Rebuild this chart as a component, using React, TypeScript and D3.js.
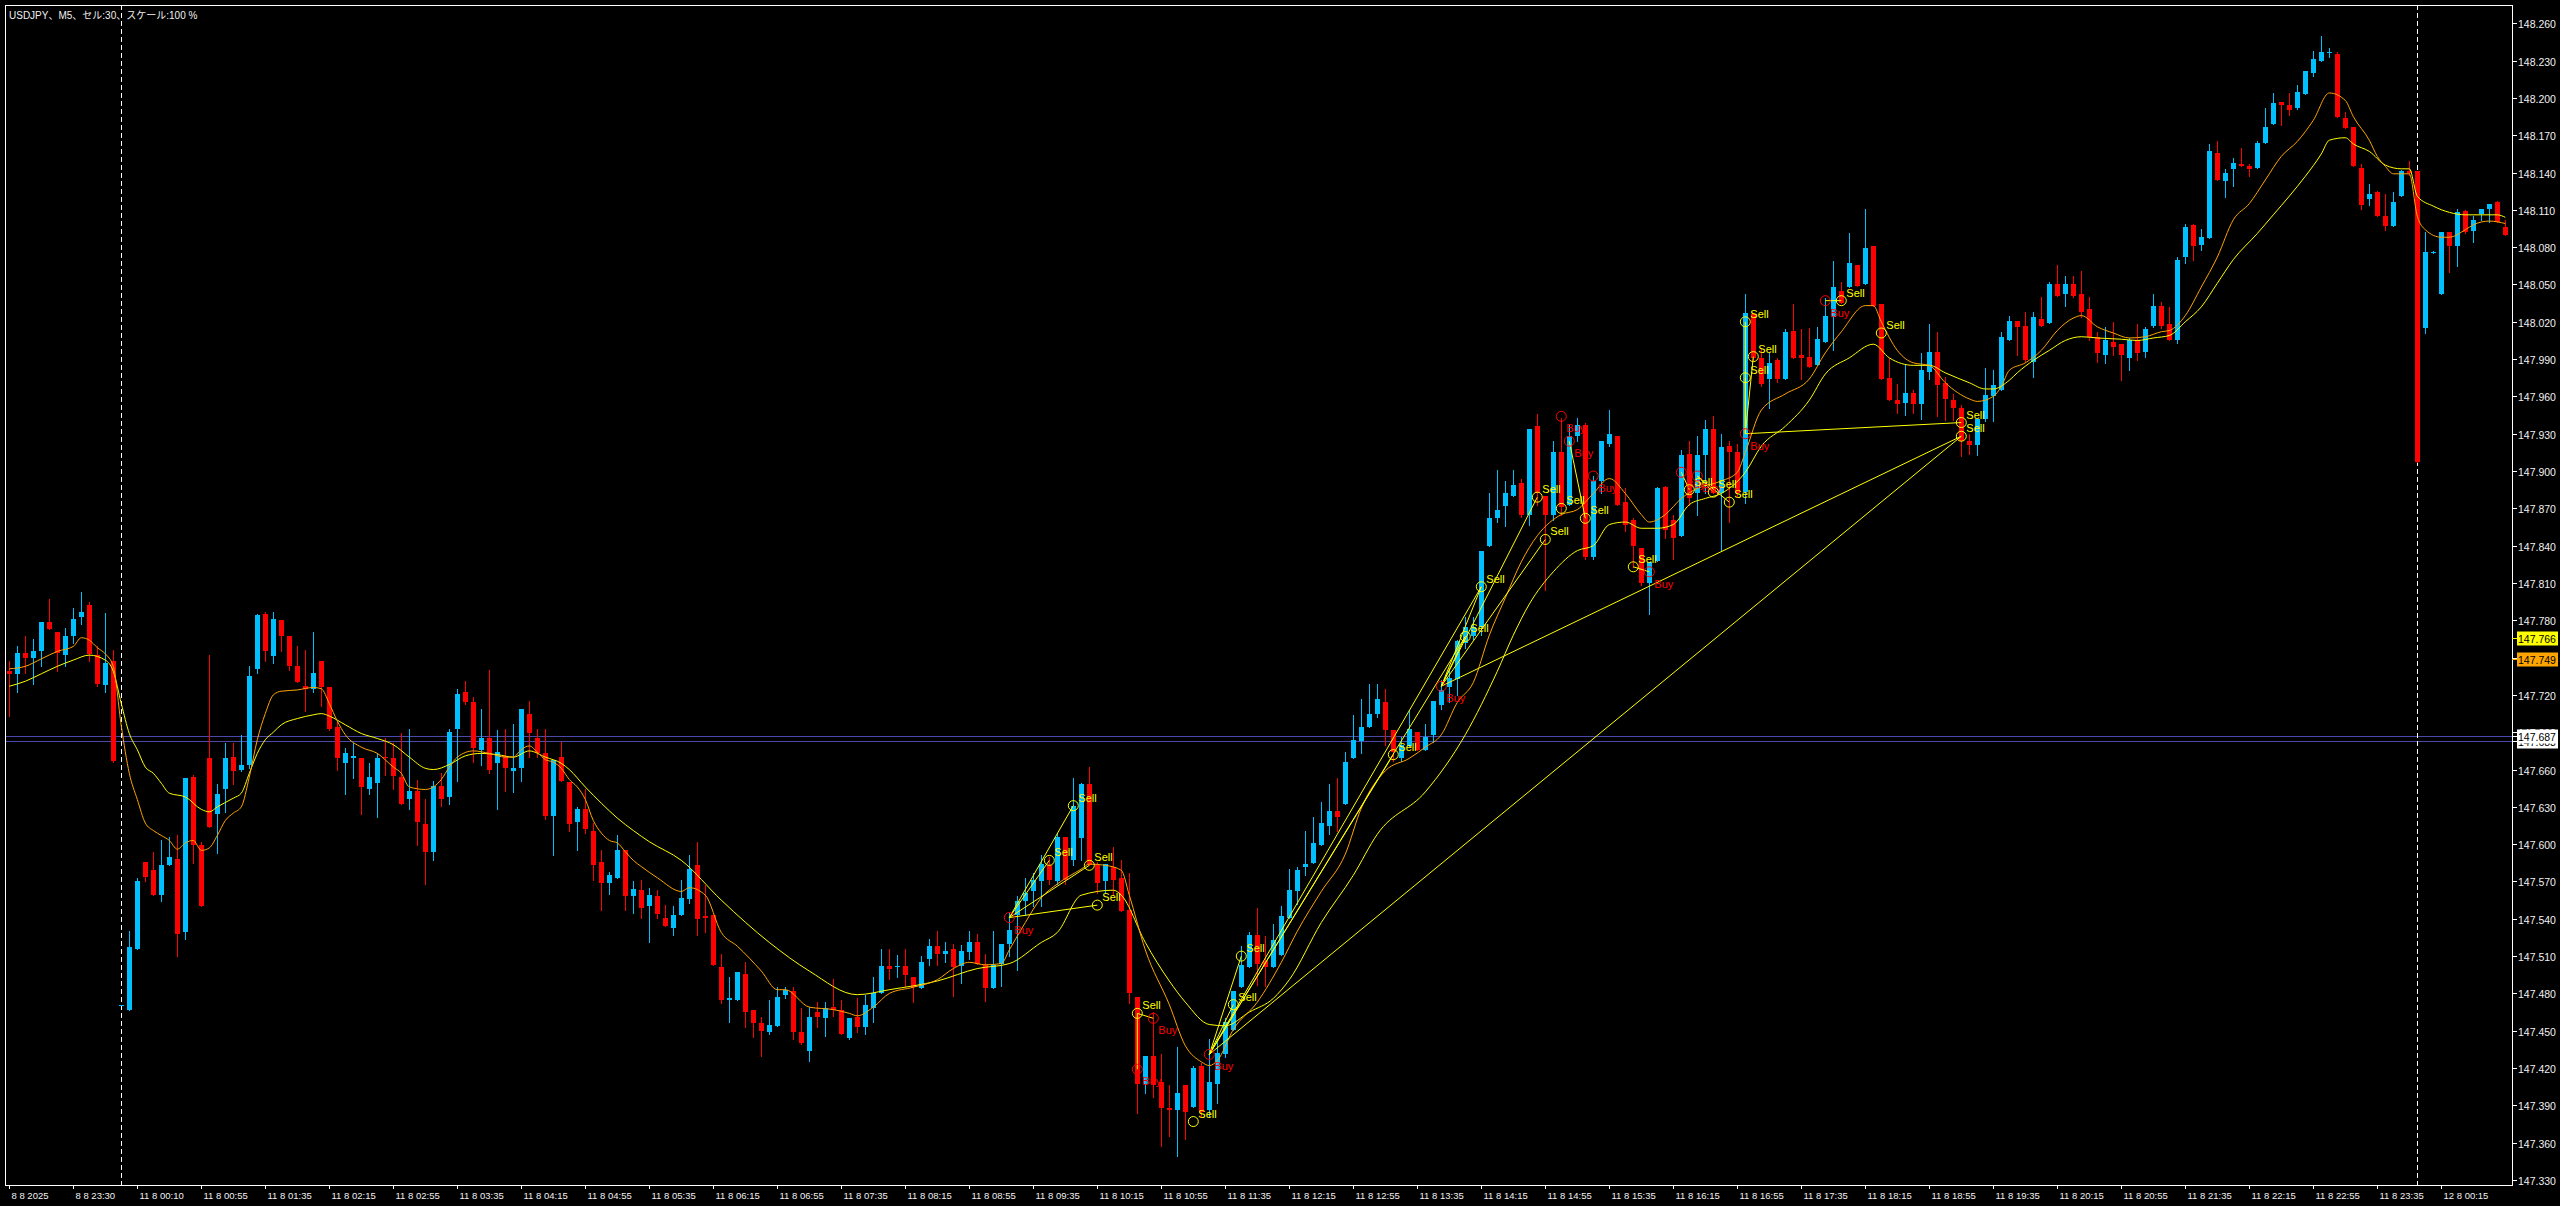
import React from "react";
import * as d3 from "d3";

const W = 2560;
const H = 1206;

const titleText = "USDJPY、M5、セル:30、スケール:100 %";

const open = [
147.739,147.737,147.754,147.750,147.755,147.779,147.771,147.752,147.767,147.783,
147.792,147.752,147.728,147.747,147.471,147.467,147.516,147.586,147.579,147.559,
147.583,147.588,147.529,147.654,147.599,147.669,147.624,147.644,147.670,147.660,
147.664,147.741,147.785,147.751,147.780,147.767,147.743,147.727,147.725,147.747,
147.726,147.694,147.665,147.669,147.669,147.644,147.649,147.670,147.669,147.654,
147.636,147.643,147.616,147.594,147.647,147.638,147.693,147.722,147.714,147.676,
147.685,147.665,147.671,147.659,147.661,147.705,147.685,147.673,147.623,147.670,
147.650,147.618,147.628,147.611,147.586,147.569,147.573,147.595,147.558,147.563,
147.550,147.558,147.541,147.533,147.543,147.556,147.583,147.542,147.543,147.501,
147.475,147.475,147.496,147.467,147.456,147.449,147.454,147.479,147.482,147.449,
147.434,147.465,147.460,147.469,147.467,147.444,147.461,147.453,147.468,147.480,
147.502,147.501,147.502,147.493,147.484,147.508,147.518,147.512,147.516,147.502,
147.513,147.521,147.503,147.484,147.504,147.520,147.543,147.554,147.562,147.570,
147.583,147.570,147.606,147.587,147.605,147.648,147.583,147.570,147.582,147.573,
147.547,147.477,147.407,147.430,147.409,147.388,147.386,147.406,147.389,147.422,
147.386,147.407,147.431,147.451,147.485,147.501,147.527,147.506,147.501,147.511,
147.541,147.562,147.582,147.585,147.599,147.615,147.627,147.632,147.669,147.683,
147.694,147.705,147.714,147.692,147.669,147.679,147.690,147.676,147.688,147.712,
147.726,147.733,147.762,147.767,147.775,147.840,147.862,147.872,147.880,147.890,
147.865,147.936,147.880,147.865,147.915,147.873,147.928,147.937,147.831,147.892,
147.922,147.928,147.875,147.861,147.838,147.810,147.828,147.887,147.861,147.848,
147.914,147.882,147.913,147.934,147.882,147.920,147.915,147.883,148.026,147.991,
147.974,147.989,147.974,148.013,147.993,147.992,147.985,148.004,148.024,148.045,
148.048,148.066,148.050,148.081,148.034,147.975,147.957,147.955,147.963,147.954,
147.980,147.996,147.971,147.957,147.951,147.924,147.921,147.942,147.960,147.965,
148.005,148.021,148.017,147.988,148.022,148.019,148.050,148.042,148.050,148.042,
148.030,148.008,147.993,148.004,148.002,147.991,148.005,147.996,148.017,148.033,
148.018,148.005,148.072,148.098,148.082,148.087,148.156,148.133,148.143,148.147,
148.145,148.144,148.164,148.179,148.197,148.194,148.192,148.203,148.220,148.230,
148.236,148.235,148.184,148.177,148.144,148.119,148.124,148.105,148.097,148.121,
148.141,148.141,148.015,148.076,148.042,148.092,148.081,148.109,148.093,148.107,
148.111,148.116,148.096];

const high = [
147.747,147.759,147.767,147.765,147.779,147.797,147.771,147.774,147.790,147.803,
147.795,147.759,147.786,147.756,147.471,147.530,147.573,147.586,147.594,147.603,
147.606,147.607,147.653,147.656,147.602,147.752,147.648,147.681,147.681,147.688,
147.743,147.785,147.787,147.787,147.780,147.767,147.759,147.756,147.771,147.747,
147.726,147.698,147.677,147.681,147.669,147.665,147.673,147.685,147.681,147.689,
147.693,147.652,147.636,147.651,147.657,147.693,147.725,147.731,147.718,147.709,
147.740,147.692,147.693,147.697,147.709,147.715,147.693,147.693,147.668,147.682,
147.650,147.630,147.644,147.617,147.595,147.578,147.607,147.595,147.570,147.571,
147.565,147.563,147.551,147.550,147.571,147.591,147.602,147.567,147.543,147.512,
147.493,147.497,147.505,147.467,147.461,147.475,147.485,147.485,147.485,147.468,
147.469,147.473,147.473,147.492,147.475,147.460,147.476,147.479,147.493,147.516,
147.516,147.511,147.516,147.493,147.510,147.524,147.530,147.521,147.520,147.519,
147.530,147.528,147.512,147.530,147.520,147.545,147.558,147.573,147.577,147.591,
147.590,147.609,147.606,147.653,147.649,147.662,147.586,147.584,147.598,147.587,
147.577,147.477,147.430,147.465,147.431,147.406,147.437,147.406,147.422,147.424,
147.443,147.443,147.460,147.482,147.518,147.529,147.549,147.526,147.536,147.550,
147.580,147.582,147.611,147.622,147.634,147.648,147.653,147.674,147.704,147.717,
147.729,147.729,147.725,147.692,147.686,147.708,147.690,147.697,147.715,147.732,
147.739,147.764,147.783,147.783,147.836,147.882,147.901,147.892,147.901,147.894,
147.934,147.946,147.880,147.924,147.943,147.937,147.943,147.939,147.896,147.924,
147.949,147.928,147.886,147.862,147.838,147.827,147.887,147.888,147.865,147.917,
147.924,147.928,147.941,147.944,147.930,147.924,147.922,148.042,148.027,147.999,
147.995,147.991,148.014,148.034,148.014,148.015,148.016,148.039,148.069,148.052,
148.091,148.066,148.111,148.081,148.034,147.991,147.970,147.985,147.965,147.995,
148.018,148.012,147.976,147.962,147.953,147.930,147.942,147.983,147.981,148.012,
148.025,148.021,148.028,148.028,148.040,148.052,148.066,148.057,148.057,148.061,
148.040,148.012,148.016,148.020,148.002,148.007,148.018,148.016,148.042,148.036,
148.032,148.072,148.099,148.099,148.095,148.163,148.165,148.143,148.152,148.160,
148.147,148.165,148.192,148.204,148.197,148.204,148.210,148.222,148.238,148.250,
148.240,148.237,148.189,148.177,148.147,148.131,148.125,148.123,148.124,148.142,
148.149,148.141,148.092,148.077,148.092,148.092,148.111,148.110,148.105,148.111,
148.115,148.117,148.102];

const low = [
147.703,147.722,147.738,147.729,147.743,147.773,147.739,147.743,147.762,147.777,
147.747,147.727,147.722,147.666,147.471,147.467,147.516,147.570,147.559,147.554,
147.583,147.510,147.524,147.585,147.550,147.614,147.593,147.626,147.648,147.659,
147.661,147.738,147.747,147.746,147.755,147.740,147.730,147.707,147.722,147.711,
147.692,147.660,147.640,147.653,147.624,147.640,147.622,147.656,147.644,147.632,
147.628,147.599,147.568,147.587,147.631,147.632,147.651,147.713,147.666,147.664,
147.657,147.628,147.643,147.642,147.651,147.670,147.670,147.620,147.591,147.651,
147.611,147.595,147.609,147.571,147.547,147.560,147.573,147.547,147.545,147.541,
147.521,147.541,147.534,147.527,147.543,147.553,147.527,147.529,147.503,147.472,
147.457,147.475,147.453,147.445,147.430,147.447,147.454,147.476,147.443,147.439,
147.426,147.453,147.446,147.462,147.447,147.443,147.449,147.447,147.457,147.480,
147.492,147.493,147.486,147.473,147.484,147.503,147.503,147.505,147.478,147.488,
147.508,147.504,147.474,147.484,147.486,147.510,147.499,147.543,147.550,147.550,
147.568,147.568,147.568,147.583,147.587,147.583,147.561,147.561,147.559,147.546,
147.472,147.384,147.400,147.397,147.357,147.365,147.349,147.363,147.389,147.381,
147.381,147.392,147.429,147.451,147.485,147.501,147.487,147.486,147.501,147.511,
147.541,147.552,147.575,147.585,147.599,147.608,147.611,147.632,147.669,147.673,
147.694,147.702,147.680,147.667,147.667,147.679,147.676,147.676,147.682,147.709,
147.714,147.720,147.758,147.765,147.768,147.840,147.859,147.856,147.880,147.863,
147.857,147.873,147.804,147.861,147.865,147.873,147.924,147.829,147.829,147.882,
147.920,147.873,147.852,147.823,147.808,147.785,147.828,147.846,147.829,147.848,
147.873,147.865,147.882,147.882,147.836,147.859,147.880,147.874,147.989,147.968,
147.951,147.972,147.974,147.991,147.974,147.984,147.985,148.004,147.997,148.035,
148.048,148.049,148.050,148.033,147.974,147.957,147.947,147.945,147.947,147.942,
147.974,147.944,147.941,147.941,147.912,147.914,147.913,147.940,147.940,147.965,
148.005,147.993,147.988,147.976,148.017,148.019,148.041,148.033,148.040,148.024,
148.005,147.988,147.987,147.993,147.973,147.981,147.989,147.992,148.016,148.015,
148.005,148.003,148.067,148.070,148.078,148.087,148.134,148.120,148.129,148.145,
148.137,148.144,148.164,148.179,148.178,148.186,148.191,148.203,148.218,148.230,
148.233,148.185,148.176,148.145,148.111,148.114,148.105,148.094,148.097,148.121,
148.138,147.907,148.011,148.075,148.042,148.060,148.065,148.091,148.084,148.102,
148.100,148.100,148.090];

const close = [
147.737,147.754,147.750,147.755,147.779,147.773,147.754,147.767,147.781,147.787,
147.753,147.729,147.746,147.667,147.471,147.517,147.570,147.574,147.559,147.583,
147.590,147.528,147.653,147.599,147.550,147.614,147.640,147.669,147.659,147.664,
147.735,147.784,147.755,147.781,147.767,147.743,147.730,147.725,147.738,147.726,
147.693,147.669,147.673,147.671,147.646,147.654,147.669,147.669,147.655,147.632,
147.643,147.618,147.594,147.647,147.636,147.690,147.721,147.714,147.677,147.685,
147.660,147.674,147.661,147.661,147.709,147.689,147.673,147.623,147.668,147.651,
147.616,147.628,147.612,147.583,147.569,147.575,147.595,147.558,147.564,147.549,
147.559,147.544,147.534,147.543,147.557,147.580,147.540,147.541,147.503,147.475,
147.476,147.497,147.465,147.456,147.450,147.455,147.477,147.483,147.449,147.440,
147.461,147.461,147.468,147.467,147.447,147.460,147.453,147.471,147.480,147.502,
147.500,147.502,147.495,147.485,147.505,147.518,147.512,147.514,147.501,147.514,
147.521,147.504,147.484,147.503,147.520,147.531,147.554,147.561,147.571,147.584,
147.571,147.606,147.571,147.631,147.648,147.583,147.569,147.584,147.571,147.546,
147.480,147.407,147.430,147.406,147.388,147.386,147.400,147.385,147.420,147.385,
147.409,147.432,147.457,147.482,147.503,147.527,147.504,147.501,147.523,147.542,
147.563,147.579,147.584,147.601,147.617,147.627,147.622,147.666,147.684,147.694,
147.705,147.717,147.692,147.674,147.680,147.693,147.676,147.686,147.715,147.724,
147.734,147.763,147.775,147.775,147.836,147.862,147.869,147.882,147.889,147.865,
147.934,147.882,147.865,147.915,147.871,147.928,147.937,147.831,147.892,147.924,
147.930,147.873,147.857,147.840,147.810,147.827,147.886,147.853,147.846,147.913,
147.878,147.913,147.934,147.882,147.919,147.915,147.882,148.027,147.991,147.970,
147.987,147.974,148.012,147.991,147.991,147.984,148.006,148.025,148.048,148.035,
148.067,148.049,148.079,148.033,147.974,147.957,147.954,147.963,147.954,147.981,
147.996,147.969,147.958,147.951,147.924,147.921,147.942,147.961,147.969,148.008,
148.021,148.016,147.989,148.024,148.017,148.050,148.041,148.050,148.041,148.028,
148.008,147.995,148.005,148.000,147.993,148.005,147.995,148.014,148.033,148.017,
148.005,148.070,148.096,148.081,148.088,148.157,148.134,148.140,148.148,148.145,
148.143,148.164,148.177,148.196,148.194,148.190,148.205,148.222,148.231,148.237,
148.237,148.185,148.176,148.145,148.114,148.123,148.105,148.097,148.116,148.141,
148.140,147.907,148.076,148.076,148.092,148.081,148.108,148.092,148.102,148.111,
148.115,148.100,148.090];

// fast moving average (orange): [bar, price]
const fastMA: [number, number][] = [
[0,147.741],[2,147.743],[4,147.749],[6,147.755],[8,147.759],[9,147.766],[10,147.764],[11,147.758],[12,147.753],[13,147.743],
[14,147.695],[15,147.657],[16,147.636],[17,147.617],[18,147.611],[19,147.607],[20,147.603],[21,147.596],[22,147.601],[23,147.603],
[24,147.595],[25,147.597],[26,147.607],[27,147.619],[28,147.625],[29,147.630],[30,147.654],[31,147.684],[32,147.705],[33,147.720],
[34,147.723],[36,147.724],[38,147.726],[39,147.725],[40,147.713],[41,147.699],[42,147.688],[44,147.678],[46,147.673],[48,147.662],
[49,147.657],[50,147.646],[52,147.644],[53,147.646],[54,147.652],[55,147.662],[56,147.670],[58,147.675],[60,147.673],[62,147.670],
[63,147.670],[64,147.676],[65,147.679],[66,147.674],[67,147.668],[68,147.666],[69,147.661],[70,147.652],[71,147.646],[72,147.636],
[73,147.619],[74,147.609],[75,147.603],[76,147.601],[77,147.594],[78,147.587],[79,147.582],[81,147.573],[84,147.562],[85,147.565],
[87,147.559],[89,147.529],[91,147.518],[94,147.498],[96,147.483],[97,147.483],[100,147.469],[103,147.467],[105,147.464],[106,147.462],
[108,147.469],[110,147.480],[113,147.485],[116,147.491],[118,147.500],[120,147.505],[122,147.503],[124,147.504],[125,147.515],[127,147.537],
[129,147.557],[131,147.568],[134,147.580],[135,147.584],[137,147.583],[139,147.579],[140,147.559],[142,147.515],[145,147.471],[147,147.438],
[149,147.425],[150,147.422],[151,147.426],[153,147.451],[156,147.473],[159,147.505],[161,147.530],[164,147.562],[167,147.592],[169,147.629],
[172,147.659],[175,147.669],[177,147.678],[179,147.688],[181,147.714],[183,147.730],[185,147.768],[187,147.798],[189,147.827],[191,147.848],
[194,147.865],[196,147.869],[198,147.882],[200,147.894],[202,147.882],[204,147.865],[205,147.859],[207,147.865],[209,147.878],[211,147.886],
[214,147.892],[216,147.899],[217,147.915],[219,147.949],[222,147.962],[225,147.974],[227,147.995],[229,148.012],[232,148.033],[233,148.033],
[234,148.020],[236,147.997],[238,147.987],[240,147.985],[242,147.971],[245,147.958],[246,147.956],[248,147.960],[249,147.968],[250,147.981],
[252,147.987],[254,147.997],[256,148.013],[258,148.023],[259,148.025],[261,148.016],[263,148.011],[265,148.007],[267,148.008],[269,148.012],
[270,148.013],[272,148.025],[274,148.048],[276,148.072],[278,148.102],[280,148.115],[282,148.134],[284,148.153],[286,148.165],[288,148.182],
[290,148.204],[292,148.198],[293,148.185],[295,148.166],[296,148.153],[297,148.145],[298,148.139],[300,148.139],[301,148.105],[302,148.094],
[304,148.088],[305,148.088],[307,148.094],[308,148.098],[310,148.101],[312,148.099]];

// slow moving average (yellow): [bar, price]
const slowMA: [number, number][] = [
[0,147.727],[2,147.731],[4,147.737],[6,147.743],[8,147.748],[10,147.752],[12,147.748],[13,147.739],[14,147.713],[15,147.689],
[16,147.676],[17,147.662],[18,147.657],[19,147.649],[20,147.641],[22,147.638],[24,147.628],[25,147.626],[26,147.630],[28,147.637],
[29,147.641],[30,147.657],[31,147.673],[32,147.684],[33,147.690],[34,147.696],[36,147.701],[38,147.704],[39,147.705],[40,147.703],
[42,147.696],[44,147.689],[46,147.685],[48,147.680],[50,147.670],[52,147.661],[53,147.660],[55,147.664],[57,147.671],[59,147.673],
[61,147.672],[63,147.670],[65,147.675],[67,147.670],[69,147.665],[70,147.660],[72,147.646],[74,147.633],[76,147.621],[78,147.611],
[80,147.602],[84,147.587],[89,147.555],[95,147.521],[100,147.498],[106,147.479],[110,147.483],[116,147.490],[121,147.500],[125,147.504],
[129,147.521],[131,147.529],[134,147.559],[138,147.563],[139,147.559],[142,147.521],[145,147.490],[147,147.473],[150,147.455],[152,147.454],
[155,147.465],[158,147.476],[160,147.491],[164,147.537],[168,147.575],[171,147.608],[177,147.642],[182,147.688],[186,147.739],[188,147.768],
[190,147.793],[193,147.819],[196,147.836],[198,147.840],[200,147.857],[202,147.859],[204,147.854],[206,147.854],[208,147.857],[210,147.873],
[212,147.878],[214,147.882],[217,147.899],[219,147.920],[222,147.936],[225,147.957],[227,147.978],[230,147.991],[233,148.002],[235,147.991],
[238,147.985],[240,147.985],[242,147.979],[245,147.971],[247,147.966],[248,147.966],[250,147.973],[251,147.979],[253,147.989],[255,147.997],
[257,148.005],[259,148.008],[261,148.007],[264,148.006],[266,148.005],[268,148.007],[270,148.009],[272,148.020],[274,148.032],[276,148.051],
[278,148.070],[281,148.091],[283,148.106],[285,148.121],[287,148.137],[289,148.155],[290,148.166],[292,148.168],[293,148.163],[295,148.157],
[297,148.146],[299,148.143],[300,148.143],[301,148.121],[303,148.113],[305,148.108],[307,148.106],[309,148.106],[311,148.106],[312,148.104]];

// trade signals
const signalBar = [125,130,133,135,136,141,143,141,148,150,153,154,173,179,182,184,191,192,194,197,194,195,198,203,205,209,210,211,213,215,217,217,218,217,227,229,234,244,244];
const signalPrice = [147.541,147.587,147.631,147.583,147.551,147.464,147.460,147.419,147.377,147.431,147.471,147.510,147.672,147.727,147.767,147.807,147.879,147.845,147.870,147.862,147.944,147.924,147.896,147.823,147.819,147.899,147.885,147.896,147.883,147.875,147.930,148.020,147.992,147.975,148.037,148.037,148.011,147.939,147.928];
const signalType = ["Buy","Sell","Sell","Sell","Sell","Sell","Buy","Buy","Sell","Buy","Sell","Sell","Sell","Buy","Sell","Sell","Sell","Sell","Sell","Sell","Buy","Buy","Buy","Sell","Buy","Buy","Sell","Buy","Sell","Sell","Buy","Sell","Sell","Sell","Buy","Sell","Sell","Sell","Sell"];
const signalLinks: [number, number][] = [
[0,1],[0,2],[0,3],[0,4],[5,7],[5,6],[9,10],[9,11],[9,12],[9,14],[9,15],[9,38],
[13,14],[13,15],[13,16],[13,17],[13,38],[21,19],[23,24],[25,26],[27,28],[27,29],
[30,31],[30,32],[30,33],[30,37],[34,35]];

const priceTicks = ["148.260","148.230","148.200","148.170","148.140","148.110","148.080","148.050","148.020","147.990","147.960","147.930","147.900","147.870","147.840","147.810","147.780","147.750","147.720","147.690","147.660","147.630","147.600","147.570","147.540","147.510","147.480","147.450","147.420","147.390","147.360","147.330"];

const timeLabels = ["8 8 2025","8 8 23:30","11 8 00:10","11 8 00:55","11 8 01:35","11 8 02:15","11 8 02:55","11 8 03:35","11 8 04:15","11 8 04:55","11 8 05:35","11 8 06:15","11 8 06:55","11 8 07:35","11 8 08:15","11 8 08:55","11 8 09:35","11 8 10:15","11 8 10:55","11 8 11:35","11 8 12:15","11 8 12:55","11 8 13:35","11 8 14:15","11 8 14:55","11 8 15:35","11 8 16:15","11 8 16:55","11 8 17:35","11 8 18:15","11 8 18:55","11 8 19:35","11 8 20:15","11 8 20:55","11 8 21:35","11 8 22:15","11 8 22:55","11 8 23:35","12 8 00:15"];
const timeLabelStep = 8;

const daySeparatorBars = [14, 301];
const hLinePrices = [147.687, 147.683];
const markerPrices = [147.683, 147.687, 147.749, 147.766];
const markerKinds = ["line", "line", "fast", "slow"];

const COLORS = {
  bg: "#000000",
  frame: "#ffffff",
  text: "#f0f0f0",
  bull: "#00bfff",
  bear: "#ff0000",
  fast: "#ffa500",
  slow: "#ffff00",
  hline: "#4b48aa",
  sell: "#ffff00",
  buy: "#ff0000",
};
const markerFill: Record<string, string> = { line: "#ffffff", fast: "#ffa500", slow: "#ffff00" };

const FONT = "'Liberation Sans', Arial, 'Noto Sans CJK JP', sans-serif";

export default function App() {
  const left = 5, right = 2512, top = 5, bottom = 1185;
  const x = d3.scaleLinear().domain([0, 312]).range([9.3, 9.3 + 8 * 312]);
  const y = d3.scaleLinear().domain([147.33, 148.26]).range([1180, 23.3]);
  const cx = (i: number) => Math.round(x(i));

  const lineGen = d3
    .line<[number, number]>()
    .x((d) => x(d[0]))
    .y((d) => y(d[1]))
    .curve(d3.curveMonotoneX);

  return (
    <svg
      width={W}
      height={H}
      style={{ position: "absolute", left: 0, top: 0, display: "block", background: COLORS.bg }}
      fontFamily={FONT}
    >
      <rect x={0} y={0} width={W} height={H} fill={COLORS.bg} />
      <clipPath id="plot">
        <rect x={left} y={top} width={right - left} height={bottom - top} />
      </clipPath>

      {/* horizontal lines */}
      {hLinePrices.map((p, k) => (
        <line key={"h" + k} x1={left} x2={right} y1={Math.round(y(p)) + 0.5} y2={Math.round(y(p)) + 0.5} stroke={COLORS.hline} strokeWidth={1} />
      ))}

      {/* day separators */}
      {daySeparatorBars.map((b, k) => (
        <line key={"d" + k} x1={cx(b) + 0.5} x2={cx(b) + 0.5} y1={top} y2={bottom} stroke="#ffffff" strokeWidth={1} strokeDasharray="5,3" />
      ))}

      <g clipPath="url(#plot)">
        {/* candles */}
        {open.map((o, i) => {
          const c = close[i];
          const bull = c >= o;
          const col = bull ? COLORS.bull : COLORS.bear;
          const yTop = Math.round(y(Math.max(o, c)));
          const yBot = Math.round(y(Math.min(o, c)));
          const xc = cx(i);
          return (
            <g key={"c" + i}>
              <line x1={xc + 0.5} x2={xc + 0.5} y1={Math.round(y(high[i]))} y2={Math.round(y(low[i])) + 1} stroke={col} strokeWidth={1} />
              <rect x={xc - 2} y={yTop} width={5} height={Math.max(1, yBot - yTop)} fill={col} />
            </g>
          );
        })}

        {/* moving averages */}
        <path d={lineGen(slowMA) || ""} fill="none" stroke={COLORS.slow} strokeWidth={1} />
        <path d={lineGen(fastMA) || ""} fill="none" stroke={COLORS.fast} strokeWidth={1} />

        {/* signal links */}
        {signalLinks.map(([a, b], k) => (
          <line
            key={"l" + k}
            x1={x(signalBar[a])}
            y1={y(signalPrice[a])}
            x2={x(signalBar[b])}
            y2={y(signalPrice[b])}
            stroke={COLORS.sell}
            strokeWidth={1}
          />
        ))}

        {/* signals */}
        {signalBar.map((b, k) => {
          const sx = x(b);
          const sy = y(signalPrice[k]);
          const isSell = signalType[k] === "Sell";
          const col = isSell ? COLORS.sell : COLORS.buy;
          return (
            <g key={"s" + k}>
              <circle cx={sx} cy={sy} r={5} fill="none" stroke={col} strokeWidth={1} />
              <text x={sx + 5} y={isSell ? sy - 4 : sy + 16} fill={col} fontSize={11}>
                {signalType[k]}
              </text>
            </g>
          );
        })}
      </g>

      {/* frame */}
      <rect x={left + 0.5} y={top + 0.5} width={right - left} height={bottom - top} fill="none" stroke={COLORS.frame} strokeWidth={1} />

      {/* title */}
      <text x={9} y={19} fill={COLORS.text} fontSize={10}>
        {titleText}
      </text>

      {/* price axis */}
      {priceTicks.map((t, k) => {
        const yy = Math.round(y(+t)) + 0.5;
        return (
          <g key={"p" + k}>
            <line x1={right} x2={right + 5} y1={yy} y2={yy} stroke={COLORS.frame} strokeWidth={1} />
            <text x={right + 6} y={yy + 4} fill={COLORS.text} fontSize={10.5}>
              {t}
            </text>
          </g>
        );
      })}

      {/* price markers */}
      {markerPrices.map((p, k) => {
        const yy = Math.round(y(p)) + 0.5;
        const fill = markerFill[markerKinds[k]];
        return (
          <g key={"m" + k}>
            <line x1={right} x2={right + 5} y1={yy} y2={yy} stroke={fill} strokeWidth={1} />
            <rect x={right + 5} y={yy - 7} width={41} height={14} fill={fill} />
            <text x={right + 6} y={yy + 4} fill="#000000" fontSize={10.5}>
              {p.toFixed(3)}
            </text>
          </g>
        );
      })}

      {/* time axis */}
      {timeLabels.map((t, k) => {
        const xx = cx(k * timeLabelStep) + 0.5;
        return (
          <g key={"t" + k}>
            <line x1={xx} x2={xx} y1={bottom} y2={bottom + 4} stroke={COLORS.frame} strokeWidth={1} />
            <text x={xx + 2} y={1199} fill={COLORS.text} fontSize={9.5}>
              {t}
            </text>
          </g>
        );
      })}
    </svg>
  );
}
